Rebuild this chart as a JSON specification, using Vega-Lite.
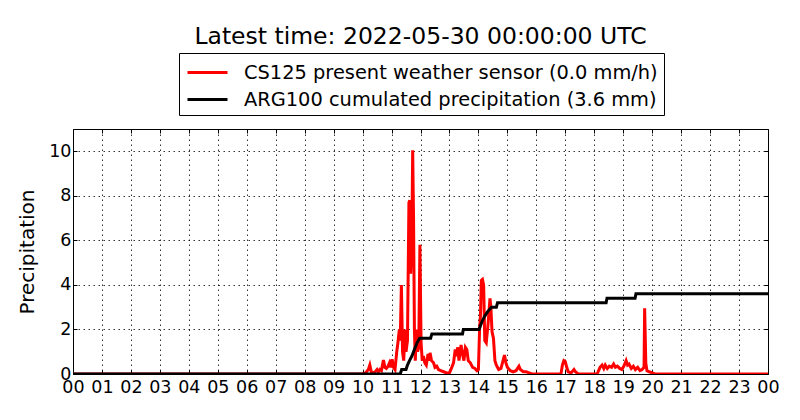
{
 "$schema": "https://vega.github.io/schema/vega-lite/v6.json",
 "width": 695,
 "height": 245,
 "autosize": {"type": "none"},
 "padding": {"left": 73, "top": 129, "right": 32, "bottom": 46},
 "background": "white",
 "config": {"font": "DejaVu Sans", "view": {"stroke": "black", "strokeWidth": 1}},
 "title": {"text": "Latest time: 2022-05-30 00:00:00 UTC", "fontSize": 23.5, "fontWeight": "normal", "font": "DejaVu Sans", "color": "black", "anchor": "middle", "frame": "group", "offset": 4},
 "datasets": {
  "cs125": [
   {"hour": 0, "value": 0}, {"hour": 10.0, "value": 0}, {"hour": 10.1, "value": 0.05}, {"hour": 10.2, "value": 0.2}, {"hour": 10.25, "value": 0.4}, {"hour": 10.3, "value": 0.1}, {"hour": 10.4, "value": 0.05}, {"hour": 10.5, "value": 0.2}, {"hour": 10.55, "value": 0.1}, {"hour": 10.6, "value": 0.2}, {"hour": 10.65, "value": 0.15}, {"hour": 10.72, "value": 0.63}, {"hour": 10.77, "value": 0.3}, {"hour": 10.82, "value": 0.25}, {"hour": 10.88, "value": 0.35}, {"hour": 10.93, "value": 0.5}, {"hour": 10.97, "value": 0.3}, {"hour": 11.02, "value": 0.66}, {"hour": 11.07, "value": 0.3}, {"hour": 11.12, "value": 0.2}, {"hour": 11.18, "value": 1.0}, {"hour": 11.22, "value": 1.4}, {"hour": 11.27, "value": 2.0}, {"hour": 11.3, "value": 1.5}, {"hour": 11.34, "value": 4.0}, {"hour": 11.38, "value": 1.0}, {"hour": 11.42, "value": 0.6}, {"hour": 11.47, "value": 2.0}, {"hour": 11.5, "value": 1.0}, {"hour": 11.55, "value": 1.5}, {"hour": 11.6, "value": 7.7}, {"hour": 11.63, "value": 7.8}, {"hour": 11.66, "value": 4.5}, {"hour": 11.7, "value": 6.0}, {"hour": 11.73, "value": 10.05}, {"hour": 11.76, "value": 7.0}, {"hour": 11.79, "value": 2.0}, {"hour": 11.82, "value": 0.6}, {"hour": 11.86, "value": 2.0}, {"hour": 11.9, "value": 1.0}, {"hour": 11.94, "value": 1.2}, {"hour": 11.98, "value": 5.8}, {"hour": 12.02, "value": 1.4}, {"hour": 12.06, "value": 0.6}, {"hour": 12.1, "value": 0.8}, {"hour": 12.15, "value": 0.5}, {"hour": 12.2, "value": 0.4}, {"hour": 12.26, "value": 0.9}, {"hour": 12.3, "value": 0.6}, {"hour": 12.33, "value": 0.95}, {"hour": 12.38, "value": 0.6}, {"hour": 12.45, "value": 0.5}, {"hour": 12.5, "value": 0.3}, {"hour": 12.56, "value": 0.35}, {"hour": 12.62, "value": 0.2}, {"hour": 12.7, "value": 0.15}, {"hour": 12.8, "value": 0.1}, {"hour": 12.9, "value": 0.05}, {"hour": 13.0, "value": 0.05}, {"hour": 13.08, "value": 0.3}, {"hour": 13.14, "value": 0.5}, {"hour": 13.2, "value": 1.1}, {"hour": 13.25, "value": 0.8}, {"hour": 13.28, "value": 1.2}, {"hour": 13.33, "value": 0.6}, {"hour": 13.4, "value": 1.3}, {"hour": 13.45, "value": 0.9}, {"hour": 13.5, "value": 0.6}, {"hour": 13.55, "value": 1.2}, {"hour": 13.6, "value": 1.1}, {"hour": 13.65, "value": 0.6}, {"hour": 13.72, "value": 0.5}, {"hour": 13.8, "value": 0.3}, {"hour": 13.88, "value": 0.25}, {"hour": 13.95, "value": 0.15}, {"hour": 14.0, "value": 0.2}, {"hour": 14.04, "value": 2.0}, {"hour": 14.07, "value": 2.6}, {"hour": 14.1, "value": 4.2}, {"hour": 14.14, "value": 4.25}, {"hour": 14.18, "value": 4.0}, {"hour": 14.22, "value": 1.5}, {"hour": 14.27, "value": 1.4}, {"hour": 14.33, "value": 2.2}, {"hour": 14.4, "value": 3.4}, {"hour": 14.43, "value": 3.0}, {"hour": 14.47, "value": 1.9}, {"hour": 14.52, "value": 1.6}, {"hour": 14.57, "value": 0.6}, {"hour": 14.62, "value": 0.4}, {"hour": 14.7, "value": 0.2}, {"hour": 14.78, "value": 0.25}, {"hour": 14.85, "value": 0.6}, {"hour": 14.9, "value": 0.85}, {"hour": 14.95, "value": 0.5}, {"hour": 15.0, "value": 0.3}, {"hour": 15.1, "value": 0.15}, {"hour": 15.2, "value": 0.1}, {"hour": 15.3, "value": 0.15}, {"hour": 15.4, "value": 0.35}, {"hour": 15.45, "value": 0.2}, {"hour": 15.55, "value": 0.1}, {"hour": 15.65, "value": 0.1}, {"hour": 15.75, "value": 0.05}, {"hour": 15.85, "value": 0}, {"hour": 16.85, "value": 0}, {"hour": 16.9, "value": 0.4}, {"hour": 16.95, "value": 0.6}, {"hour": 17.0, "value": 0.55}, {"hour": 17.05, "value": 0.3}, {"hour": 17.1, "value": 0.1}, {"hour": 17.2, "value": 0.05}, {"hour": 17.3, "value": 0.2}, {"hour": 17.35, "value": 0.1}, {"hour": 17.45, "value": 0}, {"hour": 18.1, "value": 0}, {"hour": 18.15, "value": 0.15}, {"hour": 18.2, "value": 0.3}, {"hour": 18.27, "value": 0.4}, {"hour": 18.33, "value": 0.25}, {"hour": 18.38, "value": 0.4}, {"hour": 18.45, "value": 0.25}, {"hour": 18.52, "value": 0.35}, {"hour": 18.6, "value": 0.3}, {"hour": 18.67, "value": 0.45}, {"hour": 18.73, "value": 0.3}, {"hour": 18.8, "value": 0.35}, {"hour": 18.88, "value": 0.25}, {"hour": 18.95, "value": 0.2}, {"hour": 19.02, "value": 0.35}, {"hour": 19.1, "value": 0.6}, {"hour": 19.15, "value": 0.4}, {"hour": 19.2, "value": 0.45}, {"hour": 19.28, "value": 0.25}, {"hour": 19.35, "value": 0.35}, {"hour": 19.42, "value": 0.2}, {"hour": 19.5, "value": 0.3}, {"hour": 19.58, "value": 0.15}, {"hour": 19.65, "value": 0.2}, {"hour": 19.72, "value": 0.3}, {"hour": 19.74, "value": 2.95}, {"hour": 19.78, "value": 0.5}, {"hour": 19.82, "value": 0.15}, {"hour": 19.9, "value": 0.1}, {"hour": 20.0, "value": 0.05}, {"hour": 20.1, "value": 0}, {"hour": 24, "value": 0}
  ],
  "arg100": [
   {"hour": 0, "value": 0}, {"hour": 11.3, "value": 0}, {"hour": 11.35, "value": 0.2}, {"hour": 11.5, "value": 0.2}, {"hour": 11.55, "value": 0.4}, {"hour": 11.62, "value": 0.6}, {"hour": 11.7, "value": 0.8}, {"hour": 11.76, "value": 1.0}, {"hour": 11.82, "value": 1.2}, {"hour": 11.88, "value": 1.4}, {"hour": 11.97, "value": 1.6}, {"hour": 12.35, "value": 1.6}, {"hour": 12.39, "value": 1.8}, {"hour": 13.45, "value": 1.8}, {"hour": 13.48, "value": 2.0}, {"hour": 14.02, "value": 2.0}, {"hour": 14.08, "value": 2.2}, {"hour": 14.14, "value": 2.4}, {"hour": 14.22, "value": 2.6}, {"hour": 14.32, "value": 2.8}, {"hour": 14.45, "value": 3.0}, {"hour": 14.62, "value": 3.0}, {"hour": 14.66, "value": 3.2}, {"hour": 18.41, "value": 3.2}, {"hour": 18.44, "value": 3.4}, {"hour": 19.41, "value": 3.4}, {"hour": 19.44, "value": 3.6}, {"hour": 24, "value": 3.6}
  ]
 },
 "layer": [
  {
   "data": {"name": "cs125"},
   "mark": {"type": "line", "strokeWidth": 3, "clip": true},
   "encoding": {
    "x": {"field": "hour", "type": "quantitative", "scale": {"domain": [0, 24], "nice": false, "zero": false},
     "axis": {"orient": "bottom", "values": [0,1,2,3,4,5,6,7,8,9,10,11,12,13,14,15,16,17,18,19,20,21,22,23,24],
      "labelExpr": "datum.value == 24 ? '00' : (datum.value < 10 ? '0' + datum.value : '' + datum.value)",
      "title": null, "labelFontSize": 17.5, "labelColor": "black", "labelOverlap": false, "labelFlush": false, "labelPadding": 8,
      "tickColor": "black", "tickSize": -4, "domain": false,
      "grid": true, "gridColor": "black", "gridDash": [1.5, 3.5], "gridOpacity": 1, "gridWidth": 0.8}},
    "y": {"field": "value", "type": "quantitative", "scale": {"domain": [0, 11], "nice": false},
     "axis": {"orient": "left", "values": [0,2,4,6,8,10], "title": "Precipitation", "titleFontSize": 20, "titleFontWeight": "normal", "titleColor": "black", "titlePadding": 11,
      "labelFontSize": 17.5, "labelColor": "black", "labelPadding": 6, "labelFlush": false,
      "tickColor": "black", "tickSize": -4, "domain": false,
      "grid": true, "gridColor": "black", "gridDash": [1.5, 3.5], "gridOpacity": 1, "gridWidth": 0.8}},
    "color": {"datum": "CS125 present weather sensor (0.0 mm/h)", "type": "nominal",
     "scale": {"domain": ["CS125 present weather sensor (0.0 mm/h)", "ARG100 cumulated precipitation (3.6 mm)"], "range": ["#ff0000", "#000000"]},
     "legend": {"orient": "none", "legendX": 106, "legendY": -76, "title": null, "symbolType": "M-0.88,0H2.32", "symbolSize": 625, "symbolStrokeWidth": 3,
      "labelFontSize": 19.4, "labelColor": "black", "strokeColor": "black", "fillColor": "white", "padding": 5.5, "rowPadding": 3, "labelOffset": 31.5, "cornerRadius": 0, "labelLimit": 1000}}
   }
  },
  {
   "data": {"name": "arg100"},
   "mark": {"type": "line", "strokeWidth": 3, "clip": true},
   "encoding": {
    "x": {"field": "hour", "type": "quantitative", "scale": {"domain": [0, 24], "nice": false, "zero": false},
     "axis": {"orient": "top", "values": [0,1,2,3,4,5,6,7,8,9,10,11,12,13,14,15,16,17,18,19,20,21,22,23,24], "labels": false, "title": null, "grid": false, "domain": false, "tickColor": "black", "tickSize": -4}},
    "y": {"field": "value", "type": "quantitative", "scale": {"domain": [0, 11], "nice": false},
     "axis": {"orient": "right", "values": [0,2,4,6,8,10], "labels": false, "title": null, "grid": false, "domain": false, "tickColor": "black", "tickSize": -4}},
    "color": {"datum": "ARG100 cumulated precipitation (3.6 mm)", "type": "nominal"}
   }
  }
 ],
 "resolve": {"axis": {"x": "independent", "y": "independent"}}
}
